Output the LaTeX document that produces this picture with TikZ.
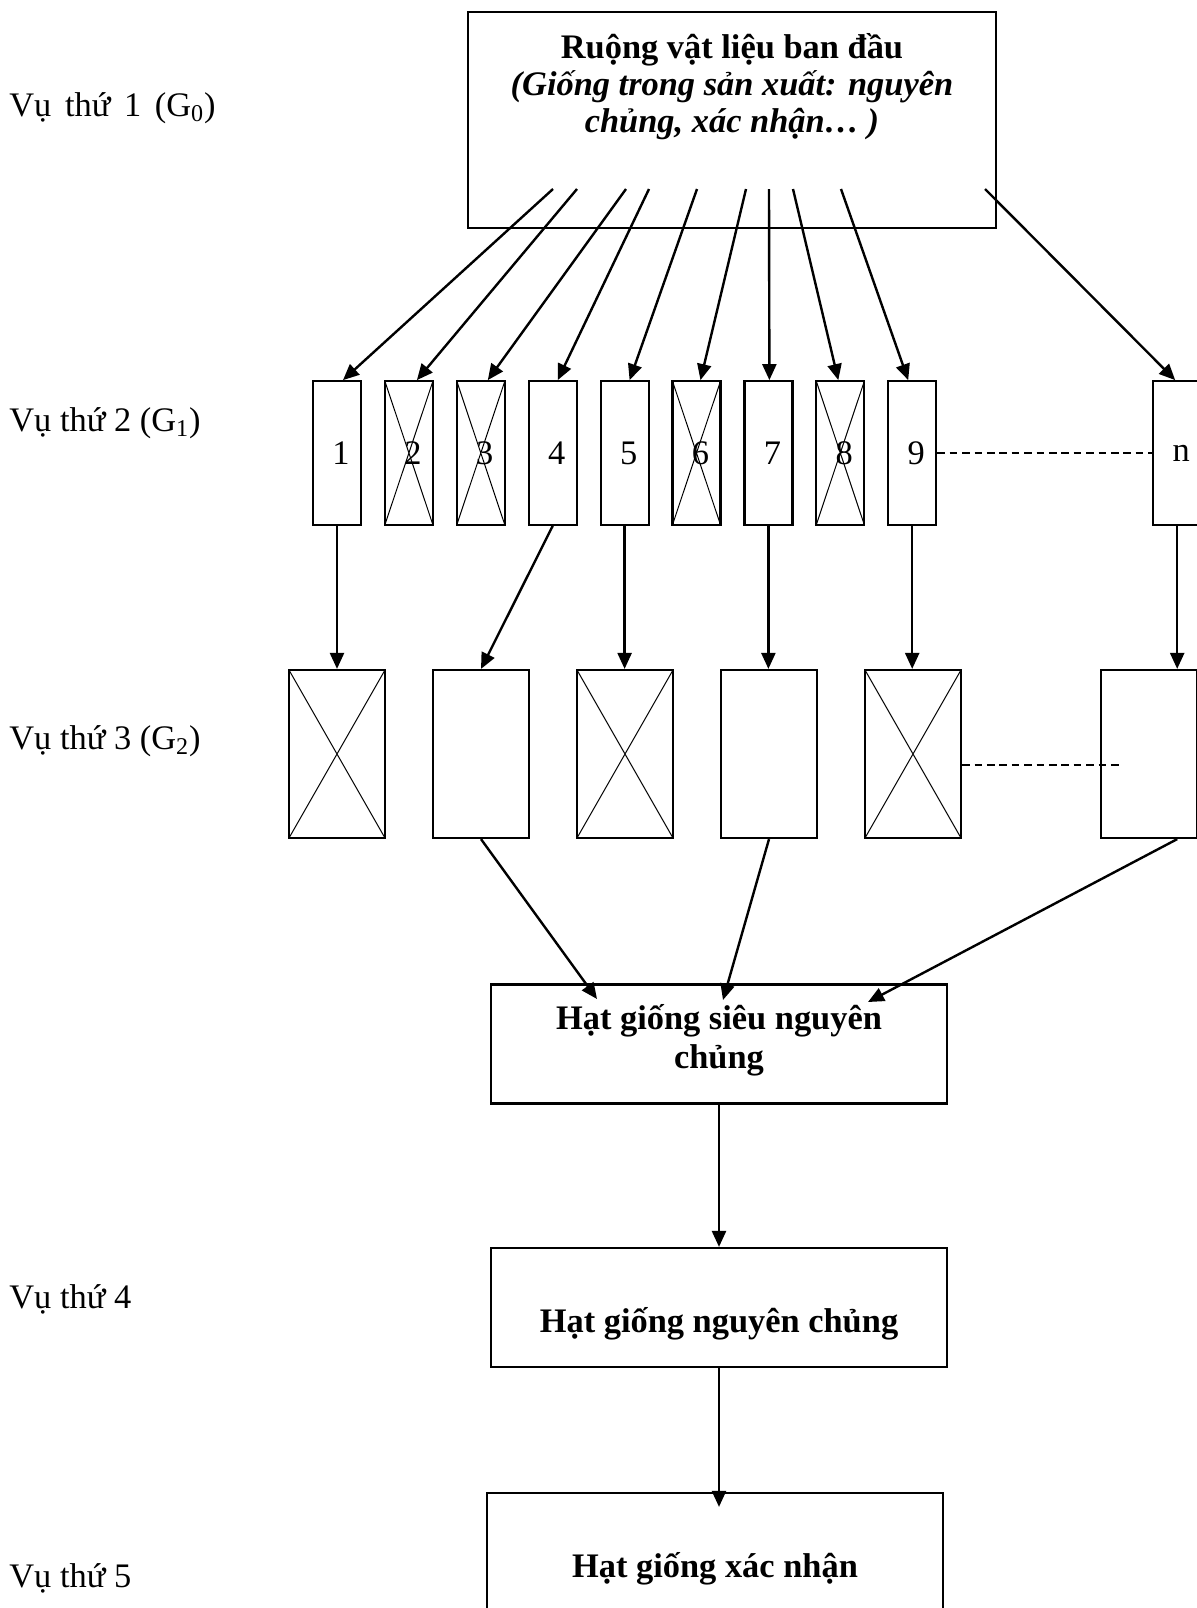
\documentclass[tikz,border=0pt]{standalone}
\usepackage{fontspec}
\setmainfont{Liberation Serif}
\usetikzlibrary{positioning, arrows.meta}

\tikzset{
	chu/.style={font=\fontsize{17.2}{18.5}\selectfont},
	chudam/.style={font=\fontsize{17.2}{19.5}\selectfont\bfseries},
	hop/.style={draw, line width=1.1pt, inner sep=0pt},
	dong/.style={hop, chu, minimum width=24pt, minimum height=71.8pt, execute at begin node={\hspace{4pt}}},
	odong/.style={hop, minimum width=48pt, minimum height=84pt},
	khung/.style={hop, chudam, align=center, minimum width=228pt, minimum height=59.5pt},
	loai/.style={path picture={\draw[line width=0.5pt]
		(path picture bounding box.north west) -- (path picture bounding box.south east)
		(path picture bounding box.south west) -- (path picture bounding box.north east);}},
	mui/.style={line width=1.2pt, -{Triangle[length=8pt,width=7pt]}},
	noi/.style={line width=0.7pt, dash pattern=on 3.8pt off 2.4pt},
	vu/.style={chu, anchor=base west, inner sep=0pt}
}

\begin{document}
\begin{tikzpicture}[x=0.5pt,y=-0.5pt,on grid,node distance=35.95pt]
	\useasboundingbox (0,0) rectangle (1197,1608);

	% cac vu
	\node[vu] (vu1) at (9,116)  {Vụ\hspace{2.5pt} thứ\hspace{2.5pt} 1\hspace{2.5pt} (G\textsubscript{0})};
	\node[vu] (vu2) at (9,431)  {Vụ thứ 2 (G\textsubscript{1})};
	\node[vu] (vu3) at (9,749)  {Vụ thứ 3 (G\textsubscript{2})};
	\node[vu] (vu4) at (9,1308) {Vụ thứ 4};
	\node[vu] (vu5) at (9,1587) {Vụ thứ 5};

	% ruong vat lieu
	\node[hop, minimum width=264pt, minimum height=108pt] (ruong) at (732,120) {};
	\node[chudam, font=\fontsize{17.2}{18.5}\selectfont\bfseries, align=center, anchor=north, inner sep=0pt]
		(tieude) at ([yshift=-11pt]ruong.north)
		{Ruộng vật liệu ban đầu\\ \textit{(Giống trong sản xuất: nguyên}\\ \textit{chủng, xác nhận… )}};

	% G1
	\node[dong]      (d1) at (337,453) {1};
	\node[dong,loai] (d2) [right=of d1] {2};
	\node[dong,loai] (d3) [right=of d2] {3};
	\node[dong]      (d4) [right=of d3] {4};
	\node[dong]      (d5) [right=of d4] {5};
	\node[dong,loai] (d6) [right=of d5] {6};
	\node[dong]      (d7) [right=of d6] {7};
	\node[dong,loai] (d8) [right=of d7] {8};
	\node[dong]      (d9) [right=of d8] {9};
	\node[dong]      (dn) [right=132.5pt of d9] {n};

	% G2
	\node[odong,loai] (o1) at (337,754) {};
	\node[odong]      (o2) [right=72pt of o1] {};
	\node[odong,loai] (o3) [right=72pt of o2] {};
	\node[odong]      (o4) [right=72pt of o3] {};
	\node[odong,loai] (o5) [right=72pt of o4] {};
	\node[odong]      (o6) [right=118pt of o5] {};

	% hat giong
	\node[khung, text depth=8pt] (sieu) at (719,1044) {Hạt giống siêu nguyên\\ chủng};
	\node[khung, text height=26pt, text depth=1.5pt] (nc) at (719,1307.5) {Hạt giống nguyên chủng};
	\node[khung, text height=26pt, text depth=1.5pt] (xn) at (715,1552.5) {Hạt giống xác nhận};

	\coordinate (s1) at (553,189);
	\coordinate (s2) at (577,189);
	\coordinate (s3) at (626,189);
	\coordinate (s4) at (649,189);
	\coordinate (s5) at (697,189);
	\coordinate (s6) at (746,189);
	\coordinate (s7) at (769,189);
	\coordinate (s8) at (793,189);
	\coordinate (s9) at (841,189);
	\coordinate (sn) at (985,189);
	\coordinate (ke) at (1122,765);
	\coordinate (t1) at (597,999);
	\coordinate (t2) at (723,1000);
	\coordinate (t3) at (868,1002);

	\path[mui] (s1) edge ([xshift=3pt]d1.north)
		(s2) edge ([xshift=4pt]d2.north)
		(s3) edge ([xshift=3.5pt]d3.north)
		(s4) edge ([xshift=2.5pt]d4.north)
		(s5) edge ([xshift=2.5pt]d5.north)
		(s6) edge ([xshift=2pt]d6.north)
		(s7) edge ([xshift=0.5pt]d7.north)
		(s8) edge ([xshift=-1pt]d8.north)
		(s9) edge ([xshift=-2pt]d9.north)
		(sn) edge ([xshift=-1pt]dn.north);

	\path[mui] (d1.south) edge (o1.north)
		(d4.south) edge (o2.north)
		(d5.south) edge (d5.south |- o3.north)
		(d7.south) edge (d7.south |- o4.north)
		(d9.south) edge (d9.south |- o5.north)
		(dn.south) edge (dn.south |- o6.north);

	\draw[noi] (d9.east) -- (dn.west);
	\draw[noi] (o5.east |- ke) -- (ke);

	\path[mui] (o2.south) edge (t1)
		(o4.south) edge (t2)
		(dn.south |- o6.south) edge (t3)
		(sieu.south) edge (nc.north)
		(nc.south) edge ([yshift=-7.5pt]nc.south |- xn.north);
\end{tikzpicture}
\end{document}
